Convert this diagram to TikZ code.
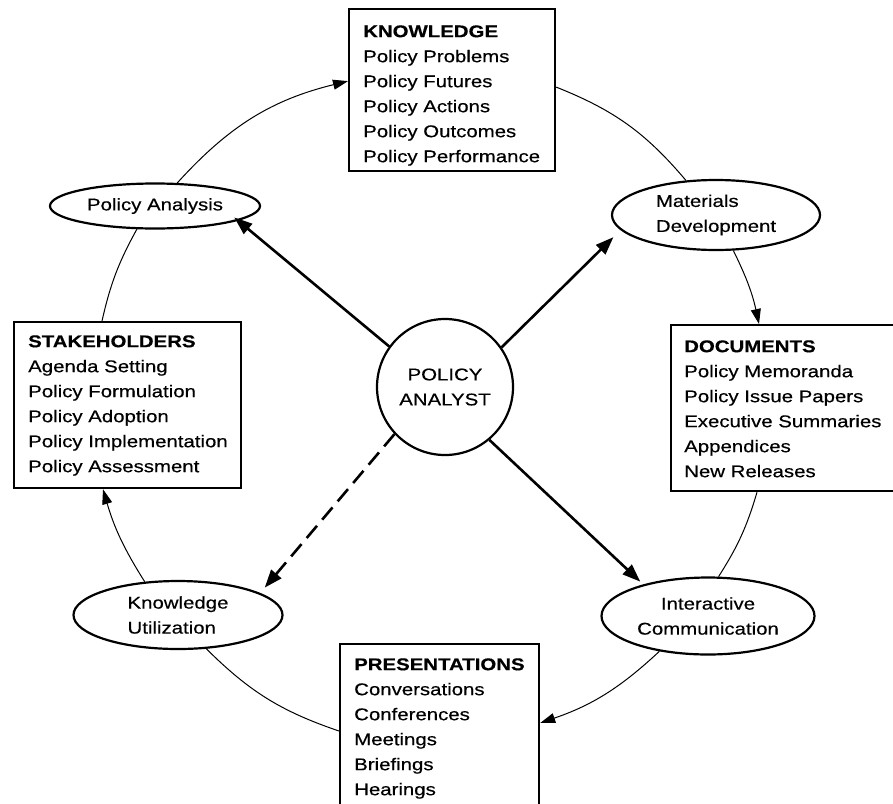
\documentclass[tikz,border=0pt]{standalone}
\usepackage{fontspec}
\setmainfont{Liberation Sans}[FakeStretch=1.2,FakeBold=0.4]
\usetikzlibrary{arrows.meta,shapes.geometric,calc}
\begin{document}
\begin{tikzpicture}[x=1pt,y=1pt,
  every node/.style={font=\fontsize{17}{25}\selectfont},
  boxframe/.style={draw, line width=2.2pt, rectangle, inner sep=0pt, anchor=north west},
  boxtext/.style={anchor=north west, inner sep=0pt, align=left, text width=#1},
  oval/.style={draw, line width=2.2pt, ellipse, inner sep=0pt, align=center},
  rim/.style={line width=1pt},
  rimarrow/.style={line width=1pt, -{Triangle[length=15pt,width=10pt]}},
  spoke/.style={line width=2.6pt, -{Triangle[length=18pt,width=13pt]}},
]
\path[fill=white, use as bounding box] (0,0) rectangle (893,-803);
\clip (0,0) rectangle (893,-803);

% boxes
\node[boxframe, minimum width=206pt, minimum height=162pt] (know) at (348,-8) {};
\node[boxtext=190pt] (knowt) at (363,-19.5) {\strut\textbf{KNOWLEDGE}\\Policy Problems\\Policy Futures\\Policy Actions\\Policy Outcomes\\Policy Performance};

\node[boxframe, minimum width=227pt, minimum height=166pt] (stake) at (13,-321) {};
\node[boxtext=215pt] (staket) at (28,-329.5) {\strut\textbf{STAKEHOLDERS}\\Agenda Setting\\Policy Formulation\\Policy Adoption\\Policy Implementation\\Policy Assessment};

\node[boxframe, minimum width=240pt, minimum height=166pt] (docs) at (670,-324) {};
\node[boxtext=215pt] (docst) at (684,-334.5) {\strut\textbf{DOCUMENTS}\\Policy Memoranda\\Policy Issue Papers\\Executive Summaries\\Appendices\\New Releases};

\node[boxframe, minimum width=199pt, minimum height=200pt] (pres) at (339,-643) {};
\node[boxtext=190pt] (prest) at (354,-652.5) {\strut\textbf{PRESENTATIONS}\\Conversations\\Conferences\\Meetings\\Briefings\\Hearings};

% ovals
\node[oval, minimum width=210pt, minimum height=45pt] (pa) at (155,-206) {Policy Analysis};
\node[oval, minimum width=208pt, minimum height=70pt, align=left] (md) at (716,-215) {Materials\\Development};
\node[oval, minimum width=209pt, minimum height=68pt, align=left] (ku) at (178,-615) {Knowledge\\Utilization};
\node[oval, minimum width=213pt, minimum height=77pt] (ic) at (708,-616) {Interactive\\Communication};

% centre
\node[draw, circle, line width=2.2pt, minimum size=136pt, inner sep=0pt, align=center] (analyst) at (445,-387) {POLICY\\ANALYST};

% rim connectors
\draw[rimarrow] (pa.46) to[bend left=17] ([yshift=9pt]know.west);
\draw[rim] ([yshift=3pt]know.east) to[bend left=14] (md.131);
\draw[rimarrow] (md.-64) to[bend left=7] ([xshift=89pt]docs.north west);
\draw[rim] ([xshift=87pt]docs.south west) to[bend left=8] (ic.75);
\draw[rimarrow] (ic.-144) to[bend left=12] ([yshift=-80pt]pres.north east);
\draw[rim] ([yshift=-88pt]pres.north west) to[bend left=13] (ku.-50);
\draw[rimarrow] (ku.135) to[bend left=8] ([xshift=90pt]stake.south west);
\draw[rim] ([xshift=89pt]stake.north west) to[bend left=8] (pa.-128);

% spokes
\draw[spoke, shorten >=-5pt] (analyst.144) -- (pa.-10);
\draw[spoke, shorten >=10pt] (analyst.35) -- (md.-171);
\draw[spoke, shorten >=4pt] (analyst.-50) -- (ic.154);
\draw[spoke, dash pattern=on 16pt off 8pt, shorten >=7pt] (analyst.-137) -- (ku.15);
\end{tikzpicture}
\end{document}
